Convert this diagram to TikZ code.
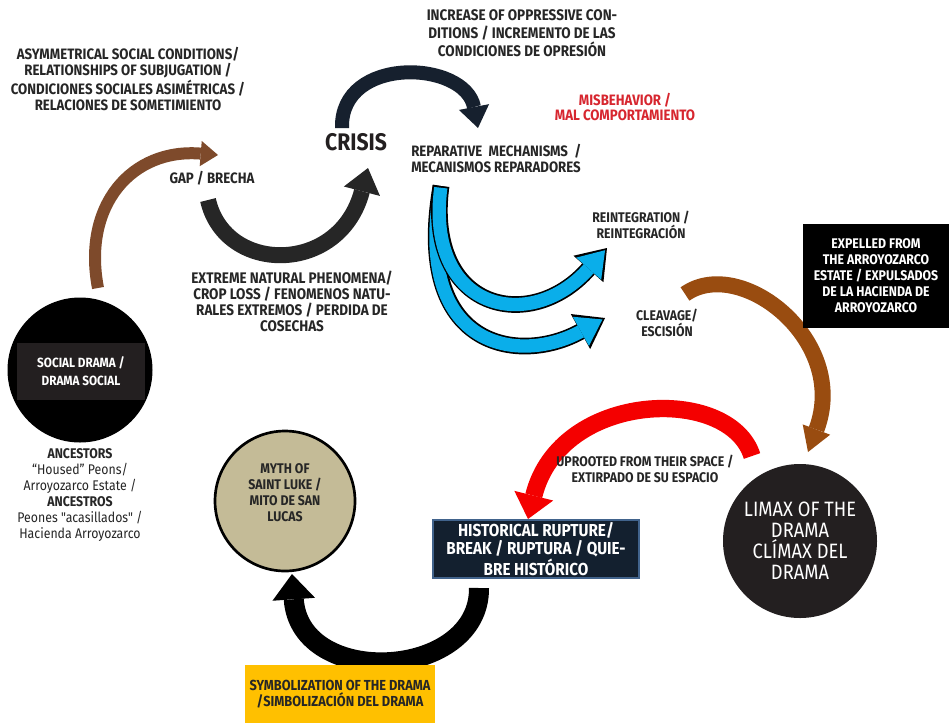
\documentclass[tikz,border=0pt]{standalone}
\usepackage{fontspec}
\setmainfont[FakeStretch=0.88, Ligatures=TeXOff]{Fira Sans}
\usepackage{tikz}
\usetikzlibrary{arrows.meta, positioning}

\definecolor{inkgray}{HTML}{262626}
\definecolor{gapbrown}{HTML}{7E4A2B}
\definecolor{cleavebrown}{HTML}{994C10}
\definecolor{crisisnavy}{HTML}{16202E}
\definecolor{loopgray}{HTML}{262626}
\definecolor{repairblue}{HTML}{0AAEEA}
\definecolor{uprootred}{HTML}{F40000}
\definecolor{misred}{HTML}{D7262F}
\definecolor{limaxgray}{HTML}{231F20}
\definecolor{mythtan}{HTML}{C4BB97}
\definecolor{symbolyellow}{HTML}{FFC000}
\definecolor{rupturenavy}{HTML}{13202F}
\definecolor{rupturerim}{HTML}{41638C}
\definecolor{socialgray}{HTML}{231F20}

\tikzset{%
	lbl/.style={align=center, inner sep=0pt, text=inkgray,%
		font=\bfseries\fontsize{10.5}{12}\selectfont},
	biglbl/.style={lbl, font=\bfseries\fontsize{11.3}{12}\selectfont},
	swoosh/.style n args={3}{line width=#1,%
		-{Triangle[length=#2 0 0, width=#3 0 0, line width=0pt 0 0]}},
	bluerim/.style={swoosh={12.5pt}{21pt}{30pt}, black},
	bluefill/.style={swoosh={10pt}{18.5pt}{25pt}, repairblue,%
		shorten >=2.2pt, shorten <=1.3pt},
	blackbox/.style={lbl, fill=black, text=white, minimum width=109.5pt,%
		minimum height=78pt},
	darkdisc/.style={circle, inner sep=0pt, fill=limaxgray, text=white,%
		align=center, font=\fontsize{15.6}{15.75}\selectfont}
}

\begin{document}
\begin{tikzpicture}[x=0.75pt, y=-0.75pt]
	\path[fill=white, use as bounding box] (0,0) rectangle (949,722);

	% arrow ends
	\coordinate (gapS) at (98,288);
	\coordinate (gapE) at (218,155);
	\coordinate (crisisS) at (342,128);
	\coordinate (crisisE) at (478,128);
	\coordinate (loopS) at (208,200);
	\coordinate (loopE) at (368,168);
	\coordinate (repairS) at (441,186);
	\coordinate (reintE) at (607,248);
	\coordinate (cleaveE) at (605,318);
	\coordinate (cleaveS) at (685,294);
	\coordinate (expelE) at (808,452);
	\coordinate (uprootS) at (752,456);
	\coordinate (uprootE) at (528,519);
	\coordinate (symbolS) at (479,588);
	\coordinate (symbolE) at (292,574);

	\draw[swoosh={9pt}{13pt}{19pt}, gapbrown] (gapS) .. controls (82,205) and (132,148) .. (gapE);
	\draw[swoosh={10.5pt}{16pt}{23pt}, crisisnavy] (crisisS) .. controls (340,55) and (465,60) .. (crisisE);
	\draw[swoosh={12pt}{18pt}{28pt}, loopgray] (loopS) .. controls (225,275) and (340,275) .. (loopE);

	\draw[bluerim] (repairS) .. controls (412,350) and (520,365) .. (cleaveE);
	\draw[bluefill] (repairS) .. controls (412,350) and (520,365) .. (cleaveE);
	\draw[bluerim] (repairS) .. controls (425,310) and (530,335) .. (reintE);
	\draw[bluefill] (repairS) .. controls (425,310) and (530,335) .. (reintE);

	\draw[swoosh={12pt}{18pt}{22pt}, cleavebrown] (cleaveS) .. controls (740,255) and (850,340) .. (expelE);
	\draw[swoosh={13pt}{18pt}{30pt}, uprootred] (uprootS) .. controls (730,385) and (560,390) .. (uprootE);
	\draw[swoosh={15pt}{19pt}{32pt}, black] (symbolS) .. controls (480,680) and (300,690) .. (symbolE);

	% texts
	\node[biglbl] (asym) at (128,79) {ASYMMETRICAL SOCIAL CONDITIONS/\\RELATIONSHIPS OF SUBJUGATION /\\CONDICIONES SOCIALES ASIMÉTRICAS /\\RELACIONES DE SOMETIMIENTO};
	\node[biglbl] (gap) at (212,178) {GAP / BRECHA};
	\node[lbl, text=limaxgray, font=\bfseries\fontsize{18}{20}\selectfont] (crisis) at (356,142) {CRISIS};
	\node[lbl, font=\bfseries\fontsize{11.5}{13.5}\selectfont] (increase) at (522,33) {INCREASE OF OPPRESSIVE CON-\\DITIONS / INCREMENTO DE LAS\\CONDICIONES DE OPRESIÓN};
	\node[lbl, text=misred, font=\bfseries\fontsize{11.3}{11}\selectfont] (misbehavior) at (625,107) {MISBEHAVIOR /\\MAL COMPORTAMIENTO};
	\node[biglbl, align=left, anchor=west] (repair) at (411,158) {REPARATIVE\ \ MECHANISMS\ \ /\\MECANISMOS REPARADORES};
	\node[lbl, font=\bfseries\fontsize{11.5}{12}\selectfont] (extreme) at (292,301) {EXTREME NATURAL PHENOMENA/\\CROP LOSS / FENOMENOS NATU-\\RALES EXTREMOS / PERDIDA DE\\COSECHAS};
	\node[lbl] (reint) at (641,225) {REINTEGRATION /\\REINTEGRACIÓN};
	\node[lbl] (cleave) at (667,323) {CLEAVAGE/\\ESCISIÓN};
	\node[blackbox] (expel) at (876,276) {EXPELLED FROM\\THE ARROYOZARCO\\ESTATE / EXPULSADOS\\DE LA HACIENDA DE\\ARROYOZARCO};
	\node[lbl] (uproot) at (645,469) {UPROOTED FROM THEIR SPACE /\\EXTIRPADO DE SU ESPACIO};

	\node[darkdisc, minimum size=115.5pt] (limax) at (800,541) {LIMAX OF THE\\DRAMA\\CLÍMAX DEL\\DRAMA};

	\node[lbl, fill=rupturenavy, draw=rupturerim, line width=1.5pt, text=white,%
		minimum width=155pt, minimum height=43.5pt,%
		font=\bfseries\fontsize{13}{13.9}\selectfont] (rupture) at (536,549) {HISTORICAL RUPTURE/\\BREAK / RUPTURA / QUIE-\\BRE HISTÓRICO};

	\node[circle, fill=mythtan, draw=black, line width=2pt, minimum size=105pt] (myth) at (285,501) {};
	\node[lbl] (mythtext) at ([yshift=6pt]myth.center) {MYTH OF\\SAINT LUKE /\\MITO DE SAN\\LUCAS};

	\node[lbl, font=\bfseries\fontsize{10.9}{12}\selectfont, fill=symbolyellow,%
		minimum width=143pt, minimum height=43pt] (symbol) at (340,694) {SYMBOLIZATION OF THE DRAMA\\/SIMBOLIZACIÓN DEL DRAMA};

	\node[circle, fill=black, minimum size=108.75pt] (social) at (80,370) {};
	\node[lbl, fill=socialgray, text=white, minimum width=96pt, minimum height=42.75pt,%
		font=\bfseries\fontsize{10}{13.5}\selectfont] (socialtext) at (81,371) {SOCIAL DRAMA /\\DRAMA SOCIAL};
	\node[lbl, font=\fontsize{10.5}{12}\selectfont, below=4pt of social] (ancestors) {\textbf{ANCESTORS}\\“Housed” Peons/\\Arroyozarco Estate /\\\textbf{ANCESTROS}\\Peones "acasillados" /\\Hacienda Arroyozarco};
\end{tikzpicture}
\end{document}
